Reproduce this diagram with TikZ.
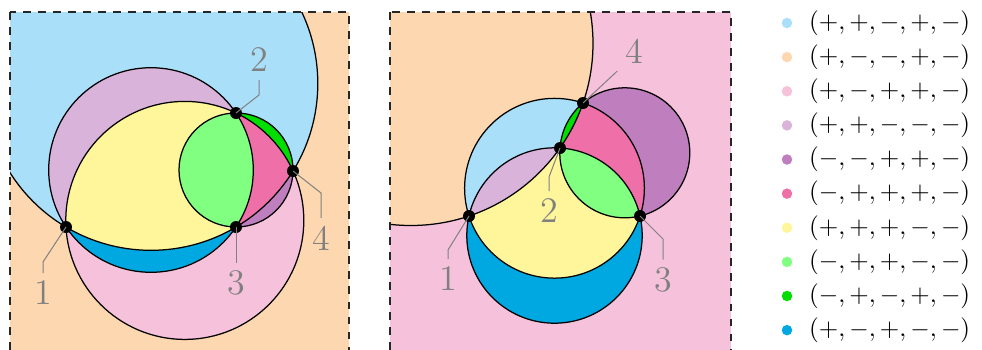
\documentclass[tikz,border=0pt]{standalone}
\usetikzlibrary{positioning}
\definecolor{sky}{HTML}{AADFFA}
\definecolor{peach}{HTML}{FDD7B0}
\definecolor{rose}{HTML}{F6C1DA}
\definecolor{lav}{HTML}{D9B3DA}
\definecolor{plum}{HTML}{BF7FBF}
\definecolor{hot}{HTML}{EF70A8}
\definecolor{lemon}{HTML}{FFF59A}
\definecolor{mint}{HTML}{80FF80}
\definecolor{leaf}{HTML}{00DD00}
\definecolor{ocean}{HTML}{00A8E2}
\tikzstyle{rim}=[draw=black, line width=0.5pt]
\tikzstyle{panel}=[draw=black!85, dashed, line width=0.7pt]
\tikzstyle{pnt}=[circle, fill=black, inner sep=0pt, minimum size=4.8pt]
\tikzstyle{swatch}=[circle, inner sep=0pt, minimum size=4.2pt]
\tikzstyle{lbl}=[text=gray, font=\Large, inner sep=3pt]
\tikzstyle{lead}=[draw=gray, line width=0.4pt]
\tikzstyle{sign}=[font=\fontsize{10.3}{12}\selectfont]
\newcommand{\circLA}{(151,83.5) circle (166.8)}
\newcommand{\circLB}{(151,170) circle (102.3)}
\newcommand{\circLD}{(184.8,220.4) circle (119)}
\newcommand{\circLE}{(236,170) circle (57)}
\newcommand{\circRA}{(554.5,188.25) circle (89.9)}
\newcommand{\circRB}{(554.5,235.5) circle (87.7)}
\newcommand{\circRD}{(410.9,43.4) circle (182.1)}
\newcommand{\circRE}{(624.8,152.8) circle (65)}

\begin{document}
\begin{tikzpicture}[x=0.4pt, y=-0.4pt, node distance=13.65pt]
    \useasboundingbox (0,0) rectangle (982,349);
    \begin{scope}
        \clip (10,12) rectangle (349,351);
        \fill[peach] (10,12) rectangle (349,351);
        \fill[sky] \circLA;
        \fill[rose] \circLD;
        \fill[ocean] \circLB;
        \begin{scope}
            \clip \circLA; \fill[lav] \circLB;
            \clip \circLD; \fill[lemon] \circLB;
        \end{scope}
        \fill[plum] \circLE;
        \begin{scope}
            \clip \circLA; \fill[leaf] \circLE;
            \clip \circLD; \fill[hot] \circLE;
            \clip \circLB; \fill[mint] \circLE;
        \end{scope}
        \draw[rim] \circLA \circLB \circLD \circLE;
    \end{scope}
    \draw[panel] (10,12) rectangle (349,351);
    \begin{scope}
        \clip (390,12) rectangle (731,351);
        \fill[rose] (390,12) rectangle (731,351);
        \fill[peach] \circRD;
        \fill[sky] \circRA;
        \fill[ocean] \circRB;
        \begin{scope}
            \clip \circRA; \fill[lemon] \circRB;
            \clip \circRD; \fill[lav] \circRB;
        \end{scope}
        \fill[plum] \circRE;
        \begin{scope}
            \clip \circRA; \fill[hot] \circRE;
            \clip \circRD; \fill[leaf] \circRE;
        \end{scope}
        \begin{scope}
            \clip \circRA; \clip \circRB; \fill[mint] \circRE;
        \end{scope}
        \draw[rim] \circRA \circRB \circRD \circRE;
    \end{scope}
    \draw[panel] (390,12) rectangle (731,351);
    % points and labels, left
    \node[pnt] (p1) at (66,227) {};
    \node[pnt] (p2) at (236,113) {};
    \node[pnt] (p3) at (236,227) {};
    \node[pnt] (p4) at (293,171) {};
    \node[lbl] (a1) at (43,293) {1};
    \node[lbl] (a2) at (259,60) {2};
    \node[lbl] (a3) at (236,283) {3};
    \node[lbl] (a4) at (321,238) {4};
    \draw[lead] (p1.center) -- ++(-23,35) -- (a1.north);
    \draw[lead] (p2.center) -- ++(23,-18) -- (a2.south);
    \draw[lead] (p3.center) -- (a3.north);
    \draw[lead] (p4.center) -- ++(28,22) -- (a4.north);
    % points and labels, right
    \node[pnt] (q1) at (469,216) {};
    \node[pnt] (q2) at (560,148) {};
    \node[pnt] (q3) at (640,216) {};
    \node[pnt] (q4) at (583,103) {};
    \node[lbl] (b1) at (448,279) {1};
    \node[lbl] (b2) at (549,211) {2};
    \node[lbl] (b3) at (663,280) {3};
    \node[lbl] (b4) at (634,51) {4};
    \draw[lead] (q1.center) -- ++(-21,34) -- (b1.north);
    \draw[lead] (q2.center) -- ++(-11,29) -- (b2.north);
    \draw[lead] (q3.center) -- ++(23,23) -- (b3.north);
    \draw[lead] (q4.center) -- (b4.south west);
    % legend
    \node[swatch, fill=sky] (k1) at (787,23) {};
    \node[swatch, fill=peach, below of=k1] (k2) {};
    \node[swatch, fill=rose, below of=k2] (k3) {};
    \node[swatch, fill=lav, below of=k3] (k4) {};
    \node[swatch, fill=plum, below of=k4] (k5) {};
    \node[swatch, fill=hot, below of=k5] (k6) {};
    \node[swatch, fill=lemon, below of=k6] (k7) {};
    \node[swatch, fill=mint, below of=k7] (k8) {};
    \node[swatch, fill=leaf, below of=k8] (k9) {};
    \node[swatch, fill=ocean, below of=k9] (k10) {};
    \node[sign, right=3pt of k1] (s1) {$(+,+,-,+,-)$};
    \node[sign, right=3pt of k2] (s2) {$(+,-,-,+,-)$};
    \node[sign, right=3pt of k3] (s3) {$(+,-,+,+,-)$};
    \node[sign, right=3pt of k4] (s4) {$(+,+,-,-,-)$};
    \node[sign, right=3pt of k5] (s5) {$(-,-,+,+,-)$};
    \node[sign, right=3pt of k6] (s6) {$(-,+,+,+,-)$};
    \node[sign, right=3pt of k7] (s7) {$(+,+,+,-,-)$};
    \node[sign, right=3pt of k8] (s8) {$(-,+,+,-,-)$};
    \node[sign, right=3pt of k9] (s9) {$(-,+,-,+,-)$};
    \node[sign, right=3pt of k10] (s10) {$(+,-,+,-,-)$};
\end{tikzpicture}
\end{document}
